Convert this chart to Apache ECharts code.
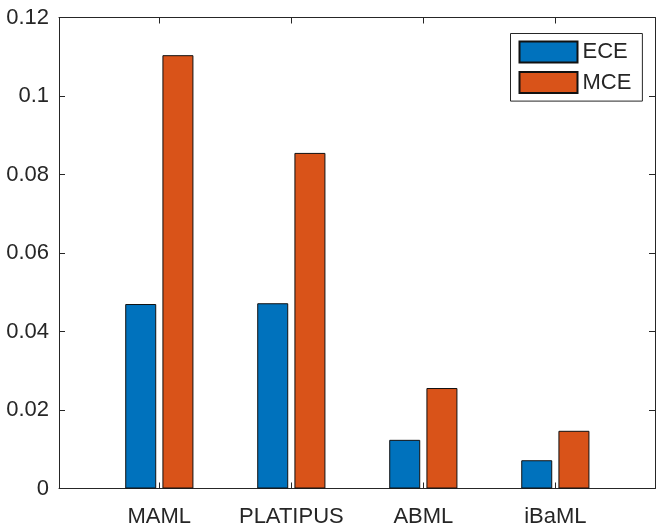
<!DOCTYPE html>
<html>
<head>
<meta charset="utf-8">
<script src="https://cdn.jsdelivr.net/npm/echarts@6/dist/echarts.min.js"></script>
<style>
html,body{margin:0;padding:0;background:#fff;}
#chart{width:665px;height:529px;}
</style>
</head>
<body>
<div id="chart"></div>
<script>
var categories = ['MAML', 'PLATIPUS', 'ABML', 'iBaML'];
var seriesNames = ['ECE', 'MCE'];
var eceValues = [0.0470, 0.0472, 0.0124, 0.0072];
var mceValues = [0.1104, 0.0855, 0.0256, 0.0147];
var categoryPositions = [1, 2, 3, 4];

var axisColor = '#262626';
var font = 'Liberation Sans, Arial, Helvetica, sans-serif';

function pairs(vals) {
  return vals.map(function (v, i) { return [categoryPositions[i], v]; });
}

var chart = echarts.init(document.getElementById('chart'), null, {renderer: 'canvas'});

var xCommon = {
  type: 'value', min: 0.24, max: 4.755,
  axisLine: {show: true, onZero: false, lineStyle: {color: axisColor, width: 1}},
  axisTick: {show: true, inside: true, length: 6, customValues: categoryPositions, lineStyle: {color: axisColor}},
  splitLine: {show: false}
};
var yCommon = {
  type: 'value', min: 0, max: 0.12, interval: 0.02,
  axisLine: {show: true, lineStyle: {color: axisColor, width: 1}},
  axisTick: {show: true, inside: true, length: 6, lineStyle: {color: axisColor}},
  splitLine: {show: false}
};

chart.setOption({
  animation: false,
  grid: {left: 59, right: 10, top: 17.5, bottom: 40.5, containLabel: false},
  legend: {
    orient: 'vertical',
    left: 510.5, top: 33.5,
    icon: 'rect',
    itemWidth: 58, itemHeight: 21, itemGap: 7.6,
    padding: [7, 11, 7, 8],
    borderColor: axisColor, borderWidth: 1,
    backgroundColor: '#fff',
    textStyle: {fontFamily: font, fontSize: 22, color: axisColor, padding: [0,0,0,0]},
    data: seriesNames
  },
  xAxis: [
    Object.assign({}, xCommon, {
      position: 'bottom',
      axisLabel: {
        show: true, margin: 17, customValues: categoryPositions,
        fontFamily: font, fontSize: 22, color: axisColor,
        formatter: function (v) { return categories[Math.round(v) - 1] || ''; }
      }
    }),
    Object.assign({}, xCommon, {position: 'top', axisLabel: {show: false}})
  ],
  yAxis: [
    Object.assign({}, yCommon, {
      position: 'left',
      axisLabel: {show: true, margin: 10, fontFamily: font, fontSize: 22, color: axisColor}
    }),
    Object.assign({}, yCommon, {position: 'right', axisLabel: {show: false}})
  ],
  series: [
    {
      name: seriesNames[0], type: 'bar', xAxisIndex: 0, yAxisIndex: 0,
      barWidth: 31, barGap: '20%',
      itemStyle: {color: '#0072BD', borderColor: '#111', borderWidth: 1},
      data: pairs(eceValues)
    },
    {
      name: seriesNames[1], type: 'bar', xAxisIndex: 0, yAxisIndex: 0,
      barWidth: 31, barGap: '20%',
      itemStyle: {color: '#D95319', borderColor: '#111', borderWidth: 1},
      data: pairs(mceValues)
    }
  ]
});
</script>
</body>
</html>
